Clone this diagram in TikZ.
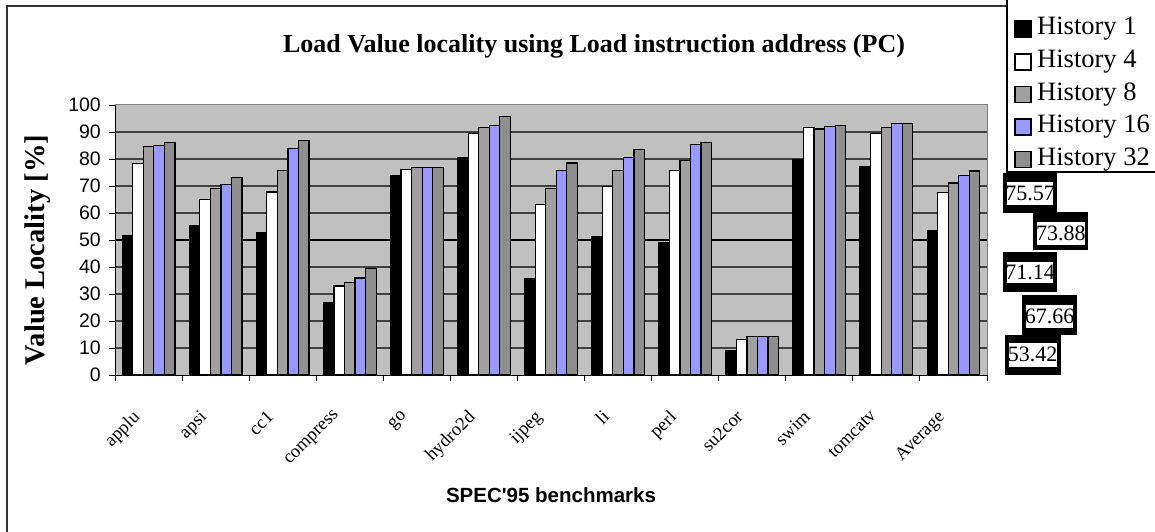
\documentclass[tikz,border=0pt]{standalone}
\usepackage{fontspec}
\setmainfont{Liberation Serif}
\setsansfont{Liberation Sans}
\definecolor{plotbg}{HTML}{C0C0C0}
\definecolor{gridc}{HTML}{404040}
\definecolor{cA}{HTML}{000000}
\definecolor{cB}{HTML}{FFFFFF}
\definecolor{cC}{HTML}{A0A0A0}
\definecolor{cD}{HTML}{9999FF}
\definecolor{cE}{HTML}{8E8E8E}
\tikzset{
  bar/.style={draw=black, line width=1.2pt},
  s1/.style={fill=cA}, s2/.style={fill=cB}, s3/.style={fill=cC},
  s4/.style={fill=cD}, s5/.style={fill=cE},
  gridline/.style={draw=gridc, line width=1.1pt},
  ticklab/.style={font=\sffamily\fontsize{19.5}{19.5}\selectfont, anchor=east, inner sep=0pt},
  catlab/.style={font=\fontsize{18.5}{18.5}\selectfont, anchor=north east, rotate=45, inner sep=0pt},
  leglab/.style={font=\fontsize{26.5}{26.5}\selectfont, anchor=west, inner sep=0pt},
  legicon/.style={draw=black, line width=1.3pt},
  vallab/.style={font=\fontsize{22}{22}\selectfont, inner sep=0pt},
}
\begin{document}
\begin{tikzpicture}[x=1pt,y=-1pt]
\useasboundingbox (0,0) rectangle (1155,532);
% outer frame
\draw[draw=black!80, line width=1.6pt] (7,540) -- (7,6) -- (1010,6);
% title
\node[font=\bfseries\fontsize{26}{26}\selectfont, inner sep=0pt] (title) at (594,46) {Load Value locality using Load instruction address (PC)};
% plot area
\fill[plotbg] (115,105) rectangle (987,375);
\draw[draw=gray, line width=1pt] (115,105) -- (987,105) -- (987,375);
\foreach \v in {10,20,30,40,60,70,80,90}{
  \draw[gridline] (115,{375-2.7*\v}) -- (987,{375-2.7*\v});
}
\draw[draw=black, line width=1.1pt] (115,240) -- (987,240);
% y axis
\draw[line width=1pt] (115,105) -- (115,375) -- (987,375);
\foreach \v in {0,10,...,100}{
  \draw[line width=1pt] (109,{375-2.7*\v}) -- (115,{375-2.7*\v});
  \node[ticklab] (yt\v) at (101,{375-2.7*\v}) {\v};
}
\foreach \i in {0,...,13}{
  \draw[line width=1pt] ({115+\i*67.077},375) -- ({115+\i*67.077},381);
}
% bars
\foreach \i/\lab/\a/\b/\c/\d/\e in {
  0/applu/51.5/78.3/84.7/85.0/86.2,
  1/apsi/55.4/65.1/69.0/70.6/73.1,
  2/cc1/52.6/67.8/75.6/84.0/87.0,
  3/compress/26.8/33.0/34.4/35.9/39.5,
  4/go/73.7/76.2/77.0/77.0/77.0,
  5/hydro2d/80.6/89.5/91.6/92.5/95.6,
  6/ijpeg/35.8/63.1/69.0/75.6/78.5,
  7/li/51.2/69.8/75.6/80.5/83.5,
  8/perl/49.1/75.6/79.5/85.3/86.2,
  9/su2cor/9.0/13.2/14.2/14.4/14.4,
  10/swim/79.6/91.6/91.1/92.0/92.3,
  11/tomcatv/77.3/89.3/91.6/93.1/93.1,
  12/Average/53.42/67.66/71.14/73.88/75.57}{
  \foreach \v [count=\k] in {\a,\b,\c,\d,\e}{
    \draw[bar, s\k] ({115+\i*67.077+7.2+(\k-1)*10.54},375) rectangle ({115+\i*67.077+7.2+\k*10.54},{375-2.7*\v});
  }
  \node[catlab] (cat\i) at ({115+\i*67.077+33.54-17},409) {\lab};
}
% axis titles
\node[font=\bfseries\fontsize{28.5}{28.5}\selectfont, rotate=90, inner sep=0pt] (ylab) at (38,250) {Value Locality [\%]};
\node[font=\sffamily\bfseries\fontsize{20.5}{20.5}\selectfont, inner sep=0pt] (xlab) at (551,495) {SPEC\textquotesingle95 benchmarks};
% legend
\draw[fill=white, line width=1.3pt] (1007,-5) rectangle (1170,172);
\foreach \k/\t/\y in {1/History 1/29, 2/History 4/62, 3/History 8/94.5, 4/History 16/127, 5/History 32/159.5}{
  \draw[legicon, s\k] (1015,{\y-8}) rectangle (1031,{\y+8});
  \node[leglab] (leg\k) at (1037,\y) {\t};
}
% value boxes
\foreach \n/\t/\xa/\ya/\xb/\yb/\xc/\yc/\xd/\yd in {
  a/75.57/1002.7/173.3/1056.7/212.7/1006.7/181.7/1053.3/205,
  b/73.88/1032.7/211.7/1088.3/250/1036.7/221.7/1085/245,
  c/71.14/1002.7/251.7/1056.7/291.7/1006.7/261.7/1053.3/283.3,
  d/67.66/1021.7/295/1077.3/335/1026/305/1073/328,
  e/53.42/1005/335/1060.7/375/1008.7/343/1056.7/366.7}{
  \fill[black] (\xa,\ya) rectangle (\xb,\yb);
  \fill[white] (\xc,\yc) rectangle (\xd,\yd);
  \node[vallab] (val\n) at ({(\xc+\xd)/2},{(\yc+\yd)/2}) {\t};
}
\end{tikzpicture}
\end{document}
